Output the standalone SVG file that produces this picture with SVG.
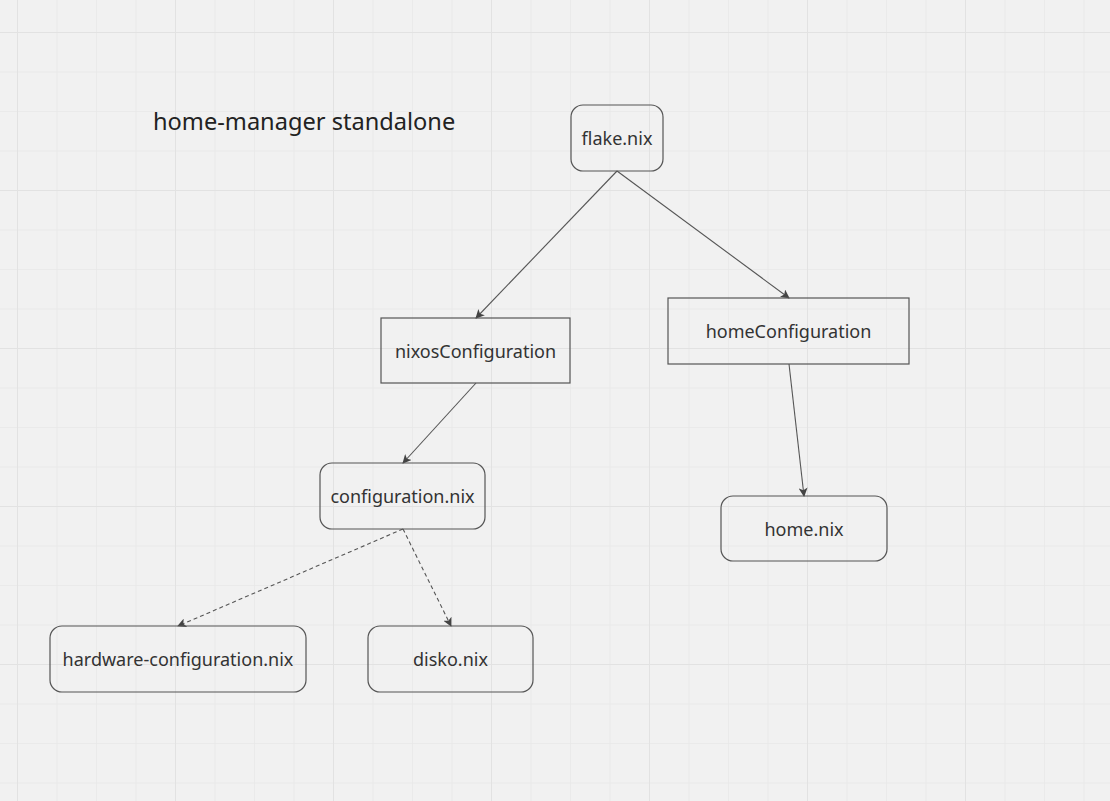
<svg xmlns="http://www.w3.org/2000/svg" width="1110" height="801" viewBox="0 0 1110 801">
<defs>
<pattern id="minor" x="17" y="32" width="39.5" height="39.5" patternUnits="userSpaceOnUse">
<path d="M0 0V39.5M0 0H39.5" fill="none" stroke="#e8e8e8" stroke-width="1.5"/>
</pattern>
<pattern id="major" x="17" y="32" width="158" height="158" patternUnits="userSpaceOnUse">
<path d="M0 0V158M0 0H158" fill="none" stroke="#e2e2e2" stroke-width="2"/>
</pattern>
<marker id="arr" viewBox="0 0 10 10" refX="9" refY="5" markerWidth="9" markerHeight="9" markerUnits="userSpaceOnUse" orient="auto">
<path d="M0 0L10 5L0 10L2.5 5z" fill="#444"/>
</marker>
</defs>
<style>
.box{fill:none;stroke:#555;stroke-width:1.2}
.t{font-family:"Noto Sans","Open Sans",sans-serif;font-size:18px;fill:#333;text-anchor:middle;dominant-baseline:central}
.e{fill:none;stroke:#555;stroke-width:1.1;marker-end:url(#arr)}
.d{stroke-dasharray:4 3}
</style>
<rect width="1110" height="801" fill="#f1f1f1"/>
<rect width="1110" height="801" fill="url(#minor)"/>
<rect width="1110" height="801" fill="url(#major)"/>
<text x="153" y="130" style="font-family:'Noto Sans','Open Sans',sans-serif;font-size:23.6px;fill:#222">home-manager standalone</text>
<g id="connectors">
<line class="e" x1="617" y1="171" x2="476" y2="318"/>
<line class="e" x1="617" y1="171" x2="789" y2="298"/>
<line class="e" x1="476" y1="383" x2="403" y2="463"/>
<line class="e" x1="789" y1="364" x2="804" y2="496"/>
<line class="e d" x1="403" y1="529" x2="178" y2="626"/>
<line class="e d" x1="403" y1="529" x2="451" y2="626"/>
</g>
<g id="flake"><rect class="box" x="571" y="105" width="92" height="66" rx="12"/><text class="t" x="617" y="138">flake.nix</text></g>
<g id="nixos"><rect class="box" x="381" y="318" width="189" height="65"/><text class="t" x="475.5" y="351">nixosConfiguration</text></g>
<g id="homeconf"><rect class="box" x="668" y="298" width="241" height="66"/><text class="t" x="788.5" y="331">homeConfiguration</text></g>
<g id="configuration"><rect class="box" x="320" y="463" width="165" height="66" rx="12"/><text class="t" x="402.5" y="496">configuration.nix</text></g>
<g id="home"><rect class="box" x="721" y="496" width="166" height="65" rx="12"/><text class="t" x="804" y="528.5">home.nix</text></g>
<g id="hardware"><rect class="box" x="50" y="626" width="256" height="66" rx="12"/><text class="t" x="178" y="659">hardware-configuration.nix</text></g>
<g id="disko"><rect class="box" x="368" y="626" width="165" height="66" rx="12"/><text class="t" x="450.5" y="659">disko.nix</text></g>
</svg>
